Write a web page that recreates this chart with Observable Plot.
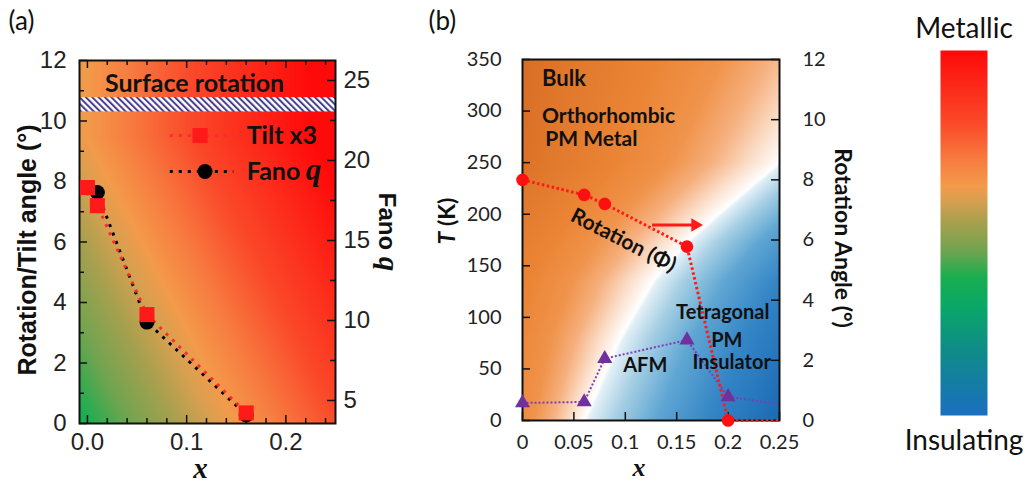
<!DOCTYPE html>
<html><head><meta charset="utf-8">
<script src="https://cdn.jsdelivr.net/npm/d3@7"></script>
<script src="https://cdn.jsdelivr.net/npm/@observablehq/plot@0.6"></script>
<style>
body{margin:0;background:#fff;}
#wrap{position:relative;width:1030px;height:483px;overflow:hidden;background:#fff;}
#wrap > svg{position:absolute;top:0;overflow:visible;}
</style></head><body><div id="wrap"></div>
<script>
// ---------- Panel (a) data ----------
const tiltX = [0, 0.01, 0.06, 0.16];
const tiltAngle = [7.8, 7.2, 3.6, 0.35];        // tilt x3 (deg, left axis)
const fanoX = [0, 0.01, 0.06, 0.16];
const fanoQ = [18.3, 18.0, 9.9, 4.1];           // Fano q (right axis)
const surfaceBand = [10.3, 10.77];              // hatched surface-rotation band (deg)
const aXTicks = [0, 0.1, 0.2];
const aYTicks = [0, 2, 4, 6, 8, 10, 12];
const aQTicks = [5, 10, 15, 20, 25];

// ---------- Panel (b) data ----------
const rotX = [0, 0.06, 0.08, 0.16, 0.2];
const rotAngle = [8.0, 7.5, 7.2, 5.78, 0];     // rotation angle (deg, right axis)
const rotTailX = [0.25];
const rotTailAngle = [0];
const afmX = [0, 0.06, 0.08, 0.16, 0.2];
const afmT = [17, 18, 60, 78, 23];              // T (K)
const afmTailX = [0.25];
const afmTailT = [16];
const boundaryT = [0, 80, 135, 173, 208, 250, 300, 350];   // orthorhombic/tetragonal boundary
const boundaryX = [0.06, 0.095, 0.127, 0.16, 0.2, 0.25, 0.285, 0.32];
const bXTicks = [0, 0.05, 0.1, 0.15, 0.2, 0.25];
const bTTicks = [0, 50, 100, 150, 200, 250, 300, 350];
const bAngleTicks = [0, 2, 4, 6, 8, 10, 12];

// ---------- colour bar (Metallic -> Insulating) ----------
const barStops = [0, 0.18, 0.30, 0.38, 0.45, 0.53, 0.59, 0.63, 0.70, 0.80, 1.0];
const barColors = ["#1a6fc0", "#0f8c88", "#0aa868", "#1aae50", "#70a450", "#a8a04e", "#d8a050", "#f39a4a", "#f77c40", "#fa4a2a", "#ff0a0a"];
const phaseStops = [-4, -3, -2.3, -1.7, -1.1, -0.7, -0.3, 0, 0.004, 0.03, 0.07, 0.12, 0.19];
const phaseColors = ["#c86018", "#d4691f", "#e27a2e", "#eb8434", "#f0944c", "#f6b07e", "#fbe0cc", "#ffffff", "#e3f0f7", "#a6cfe4", "#5fa6d3", "#3586c6", "#1a6ab5"];

const SANS = "Liberation Sans, Arial, sans-serif";
const CAL = "Lato, 'Open Sans', sans-serif";
const SERIF = "Liberation Serif, 'Times New Roman', serif";

function richify(svg, plain, parts) {
  svg.querySelectorAll("text").forEach(t => {
    if (t.textContent === plain) {
      while (t.firstChild) t.removeChild(t.firstChild);
      for (const [str, attrs] of parts) {
        const ts = document.createElementNS("http://www.w3.org/2000/svg", "tspan");
        ts.textContent = str;
        for (const k in attrs) ts.setAttribute(k, attrs[k]);
        t.appendChild(ts);
      }
    }
  });
}
const C = {textAnchor: "middle", lineAnchor: "middle"};

// ================= Panel (a) =================
const axA = [-0.008, 0.25];
const qDom = [3.5625, 26.25];
const qToLeft = q => (q - qDom[0]) * 12 / (qDom[1] - qDom[0]);
const leftToQ = v => v * (qDom[1] - qDom[0]) / 12 + qDom[0];
const tilt = tiltX.map((x, i) => ({x, y: tiltAngle[i]}));
const fano = fanoX.map((x, i) => ({x, y: qToLeft(fanoQ[i])}));
const frameWA = 420 - 79 - 85, frameHA = 483 - 60 - 60;
const minorXA = d3.range(0.02, 0.25, 0.02).filter(v => Math.abs(v * 10 - Math.round(v * 10)) > 1e-6);

function metalT(x, y) {
  const s = Math.max(0, x / 0.15 + Math.min(y, 9.5) / 9.5);
  return s <= 1 ? 0.38 + 0.25 * s : Math.min(1, 0.63 + 0.37 * (s - 1) / 1.5);
}
const legA = {x1: 0.083, x2: 0.147, xm1: 0.1135, xm2: 0.1185, xt: 0.1605, y1: 9.52, y2: 8.33};
const dotted = {strokeWidth: 3, strokeDasharray: "3 6", strokeLinecap: "butt"};

const svgA = Plot.plot({
  width: 420, height: 483,
  marginLeft: 79, marginRight: 85, marginTop: 60, marginBottom: 60,
  x: {domain: axA},
  y: {domain: [0, 12]},
  color: {type: "linear", domain: barStops, range: barColors, clamp: true},
  style: {fontFamily: SANS, fontSize: "24px", color: "#000", background: "transparent", overflow: "visible"},
  marks: [
    Plot.raster({x1: axA[0], x2: axA[1], y1: 0, y2: 12, fill: (x, y) => metalT(x, y)}),
    Plot.rect([surfaceBand], {x1: () => axA[0], x2: () => axA[1], y1: d => d[0], y2: d => d[1], fill: "url(#hatchA)"}),
    // inward ticks
    Plot.tickY(d3.range(0, 13, 2), {y: d => d, stroke: "#111", strokeWidth: 1.5, insetRight: frameWA - 8}),
    Plot.tickY(d3.range(1, 12, 2), {y: d => d, stroke: "#111", strokeWidth: 1.5, insetRight: frameWA - 5}),
    Plot.tickY(aQTicks.map(qToLeft), {y: d => d, stroke: "#111", strokeWidth: 1.5, insetLeft: frameWA - 8}),
    Plot.tickY([7.5, 12.5, 17.5, 22.5].map(qToLeft), {y: d => d, stroke: "#111", strokeWidth: 1.5, insetLeft: frameWA - 5}),
    Plot.tickX(aXTicks, {x: d => d, stroke: "#111", strokeWidth: 1.5, insetTop: frameHA - 8}),
    Plot.tickX(aXTicks, {x: d => d, stroke: "#111", strokeWidth: 1.5, insetBottom: frameHA - 8}),
    Plot.tickX(minorXA, {x: d => d, stroke: "#111", strokeWidth: 1.5, insetTop: frameHA - 5}),
    Plot.tickX(minorXA, {x: d => d, stroke: "#111", strokeWidth: 1.5, insetBottom: frameHA - 5}),
    Plot.frame({stroke: "#111", strokeWidth: 2}),
    // data
    Plot.line(fano, {x: "x", y: "y", stroke: "#000", ...dotted}),
    Plot.line(tilt, {x: "x", y: "y", stroke: "#ff2a2a", ...dotted, strokeDashoffset: 4}),
    Plot.dot(fano, {x: "x", y: "y", r: 7.5, fill: "#000"}),
    Plot.dot(tilt, {x: "x", y: "y", r: 8.5, symbol: "square", fill: "#ff1a1a"}),
    // legend
    Plot.link([legA], {x1: "x1", x2: "x2", y1: "y1", y2: "y1", stroke: "#ff2a2a", ...dotted}),
    Plot.link([legA], {x1: "x1", x2: "x2", y1: "y2", y2: "y2", stroke: "#000", ...dotted}),
    Plot.dot([legA], {x: "xm1", y: "y1", r: 8.5, symbol: "square", fill: "#ff1a1a"}),
    Plot.dot([legA], {x: "xm2", y: "y2", r: 7.5, fill: "#000"}),
    Plot.text(["Tilt x3"], {x: () => legA.xt, y: () => legA.y1, textAnchor: "start", fontFamily: CAL, fontWeight: "bold", fontSize: 25, fill: "#111"}),
    Plot.text(["Fano"], {x: () => legA.xt, y: () => legA.y2, textAnchor: "start", fontFamily: CAL, fontWeight: "bold", fontSize: 25, fill: "#111"}),
    Plot.text(["q"], {x: () => legA.xt, y: () => legA.y2, dx: 59, dy: -1, textAnchor: "start", fontFamily: SERIF, fontStyle: "italic", fontWeight: "bold", fontSize: 31, fill: "#111"}),
    Plot.text(["Surface rotation"], {x: () => 0.108, y: () => 11.23, fontFamily: CAL, fontWeight: "bold", fontSize: 25, fill: "#111"}),
    // axes
    Plot.axisY(aYTicks, {anchor: "left", tickSize: 0, tickPadding: 13, label: null, fontSize: 24, fill: "#222"}),
    Plot.axisY(aQTicks.map(qToLeft), {anchor: "right", tickSize: 0, tickPadding: 8, label: null, tickFormat: d => String(Math.round(leftToQ(d))), fontSize: 24, fill: "#222"}),
    Plot.axisX(aXTicks, {anchor: "bottom", tickSize: 0, tickPadding: 9, label: null, tickFormat: d3.format(".1f"), fontSize: 24, fill: "#222"}),
    Plot.text(["Rotation/Tilt angle (°)"], {frameAnchor: "left", ...C, rotate: -90, dx: -52, dy: 8, fontWeight: "bold", fontSize: 25, fill: "#111"}),
    Plot.text(["Fano q"], {frameAnchor: "right", ...C, rotate: 90, dx: 51, dy: -10, fontWeight: "bold", fontSize: 24, fill: "#111"}),
    Plot.text(["x"], {frameAnchor: "bottom", ...C, dx: -7, dy: 45, fontFamily: SERIF, fontStyle: "italic", fontWeight: "bold", fontSize: 29, fill: "#111"}),
    Plot.text(["(a)"], {frameAnchor: "top-left", textAnchor: "start", lineAnchor: "middle", dx: -71, dy: -39, fontFamily: CAL, fontSize: 26, fill: "#111"})
  ]
});
{
  const defs = d3.select(svgA).insert("defs", ":first-child");
  const pat = defs.append("pattern").attr("id", "hatchA").attr("patternUnits", "userSpaceOnUse")
    .attr("width", 4.5).attr("height", 4.5).attr("patternTransform", "rotate(-45)");
  pat.append("rect").attr("width", 4.5).attr("height", 4.5).attr("fill", "#fff");
  pat.append("rect").attr("x", 0).attr("y", 0).attr("width", 2).attr("height", 4.5).attr("fill", "#4b3c8c");
}
richify(svgA, "Fano q", [["Fano ", {}], ["q", {"font-family": SERIF, "font-style": "italic", "font-size": "29"}]]);

// ================= Panel (b) =================
const toK = a => a * 350 / 12;
const fromK = k => k * 12 / 350;
const rot = rotX.map((x, i) => ({x, y: toK(rotAngle[i])}));
const rotLine = rot.concat(rotTailX.map((x, i) => ({x, y: toK(rotTailAngle[i])})));
const afm = afmX.map((x, i) => ({x, y: afmT[i]}));
const afmLine = afm.concat(afmTailX.map((x, i) => ({x, y: afmTailT[i]})));
const xb = d3.scaleLinear(boundaryT, boundaryX);
function phase(x, T) {
  const b = xb(T);
  if (x < b) return -(b - x) / (0.045 + 0.0002 * T);
  return x - b;
}
const frameWB = 460 - 102 - 101, frameHB = 483 - 59 - 63;
const arrowB = {x1: 0.126, x2: 0.165, xh: 0.168, y: toK(6.5)};

const svgB = Plot.plot({
  width: 460, height: 483,
  marginLeft: 102, marginRight: 101, marginTop: 59, marginBottom: 63,
  x: {domain: [0, 0.25]},
  y: {domain: [0, 350]},
  color: {type: "linear", domain: phaseStops, range: phaseColors, clamp: true},
  style: {fontFamily: CAL, fontSize: "20px", color: "#000", background: "transparent", overflow: "visible"},
  marks: [
    Plot.raster({x1: 0, x2: 0.25, y1: 0, y2: 350, fill: (x, y) => phase(x, y)}),
    Plot.tickY(bTTicks, {y: d => d, stroke: "#111", strokeWidth: 1.5, insetRight: frameWB - 8}),
    Plot.tickY(bAngleTicks.map(toK), {y: d => d, stroke: "#111", strokeWidth: 1.5, insetLeft: frameWB - 8}),
    Plot.tickX(bXTicks, {x: d => d, stroke: "#111", strokeWidth: 1.5, insetTop: frameHB - 8}),
    Plot.frame({stroke: "#111", strokeWidth: 2}),
    Plot.line(afmLine, {x: "x", y: "y", stroke: "#7b3fb5", strokeWidth: 2, strokeDasharray: "2 2", strokeLinecap: "butt"}),
    Plot.line(rotLine, {x: "x", y: "y", stroke: "#ff1a1a", strokeWidth: 3, strokeDasharray: "2.5 2.5", strokeLinecap: "butt"}),
    Plot.dot(afm, {x: "x", y: "y", r: 5.6, symbol: "triangle", fill: "#7030a0"}),
    Plot.dot(rot, {x: "x", y: "y", r: 6.3, fill: "#ff1010"}),
    Plot.link([arrowB], {x1: "x1", x2: "x2", y1: "y", y2: "y", stroke: "#ff1a1a", strokeWidth: 3}),
    Plot.dot([arrowB], {x: "xh", y: "y", r: 5, symbol: "triangle", rotate: 90, fill: "#ff1a1a"}),
    Plot.text(["Bulk"], {x: () => 0.019, y: () => 331, textAnchor: "start", fontWeight: "bold", fontSize: 22, fill: "#111"}),
    Plot.text(["Orthorhombic"], {x: () => 0.019, y: () => 295, textAnchor: "start", fontWeight: "bold", fontSize: 21, fill: "#111"}),
    Plot.text(["PM Metal"], {x: () => 0.0221, y: () => 273, textAnchor: "start", fontWeight: "bold", fontSize: 21, fill: "#111"}),
    Plot.text(["Rotation (Φ)"], {x: () => 0.0983, y: () => 174.6, rotate: 27, fontWeight: "bold", fontSize: 21, fill: "#111"}),
    Plot.text(["Tetragonal"], {x: () => 0.1948, y: () => 105, fontWeight: "bold", fontSize: 20, fill: "#111"}),
    Plot.text(["PM"], {x: () => 0.1988, y: () => 77.6, fontWeight: "bold", fontSize: 20, fill: "#111"}),
    Plot.text(["Insulator"], {x: () => 0.2035, y: () => 56.5, fontWeight: "bold", fontSize: 20, fill: "#111"}),
    Plot.text(["AFM"], {x: () => 0.1194, y: () => 53.3, fontWeight: "bold", fontSize: 20, fill: "#111"}),
    Plot.axisY(bTTicks, {anchor: "left", tickSize: 0, tickPadding: 21, label: null, fontSize: 20, fill: "#222"}),
    Plot.axisY(bAngleTicks.map(toK), {anchor: "right", tickSize: 0, tickPadding: 23, label: null, tickFormat: d => String(Math.round(fromK(d))), fontSize: 20, fill: "#222"}),
    Plot.axisX(bXTicks, {anchor: "bottom", tickSize: 0, tickPadding: 14, label: null, tickFormat: d => String(d), fontSize: 20, fill: "#222"}),
    Plot.text(["T (K)"], {frameAnchor: "left", ...C, rotate: -90, dx: -75, dy: -19, fontWeight: "bold", fontSize: 23, fill: "#111"}),
    Plot.text(["Rotation Angle (°)"], {frameAnchor: "right", ...C, rotate: 90, dx: 63, dy: -2, fontWeight: "bold", fontSize: 23, fill: "#111"}),
    Plot.text(["x"], {frameAnchor: "bottom", ...C, dx: -12, dy: 47, fontFamily: SERIF, fontStyle: "italic", fontWeight: "bold", fontSize: 26, fill: "#111"}),
    Plot.text(["(b)"], {frameAnchor: "top-left", textAnchor: "start", lineAnchor: "middle", dx: -94, dy: -38, fontSize: 26, fill: "#111"})
  ]
});
richify(svgB, "T (K)", [["T", {"font-style": "italic"}], [" (K)", {}]]);

// ================= Colour bar =================
const svgC = Plot.plot({
  width: 150, height: 483,
  marginLeft: 60, marginRight: 43, marginTop: 50, marginBottom: 68,
  x: {domain: [0, 1], axis: null},
  y: {domain: [0, 1], axis: null},
  color: {type: "linear", domain: barStops, range: barColors, clamp: true},
  style: {fontFamily: CAL, background: "transparent", overflow: "visible"},
  marks: [
    Plot.raster({x1: 0, x2: 1, y1: 0, y2: 1, fill: (x, y) => y}),
    Plot.text(["Metallic"], {frameAnchor: "top", ...C, dy: -21, fontSize: 28, fill: "#111"}),
    Plot.text(["Insulating"], {frameAnchor: "bottom", ...C, dy: 26, fontSize: 28, fill: "#111"})
  ]
});

const wrap = document.getElementById("wrap");
svgA.style.left = "0px"; svgB.style.left = "420px"; svgC.style.left = "880px";
wrap.append(svgA, svgB, svgC);
</script></body></html>
